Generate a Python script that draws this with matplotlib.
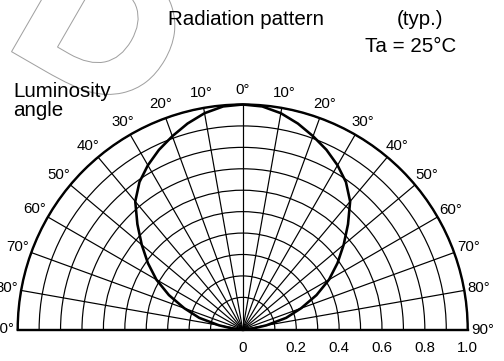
import numpy as np
import matplotlib.pyplot as plt
from matplotlib.textpath import TextPath
from matplotlib.patches import PathPatch
from matplotlib.font_manager import FontProperties
from matplotlib.transforms import Affine2D, IdentityTransform

plt.rcParams['font.family'] = ['Liberation Sans', 'DejaVu Sans']

# relative luminous intensity vs. angle (one side, symmetric)
angles_deg = [0, 5, 10, 15, 20, 25, 30, 35, 40, 45, 50, 55, 60, 65, 70, 75, 80, 85, 90]
intensity = [1.0, 0.995, 0.975, 0.945, 0.91, 0.875, 0.835, 0.79, 0.73, 0.645,
             0.565, 0.49, 0.415, 0.33, 0.24, 0.16, 0.075, 0.03, 0.0]

theta_ticks = list(range(-90, 91, 10))
theta_labels = [f"{abs(a)}°" for a in theta_ticks]
r_rings = [0.1, 0.2, 0.3, 0.4, 0.5, 0.6, 0.7, 0.8, 0.9, 1.0]
r_labels = ["0", "0.2", "0.4", "0.6", "0.8", "1.0"]
r_label_pos = [0.0, 0.2, 0.4, 0.6, 0.8, 1.0]


# the innermost ring is drawn a little wider than linear
def fwd(r):
    r = np.asarray(r, dtype=float)
    return np.where(r < 0.1, 1.5 * r, r + 0.05)


def inv(y):
    y = np.asarray(y, dtype=float)
    return np.where(y < 0.15, y / 1.5, y - 0.05)


W, H = 504, 361
fig = plt.figure(figsize=(W / 72, H / 72), dpi=72)

# outlined stamp letter in the background
stamp = TextPath((0, 0), "D", size=190,
                 prop=FontProperties(family='DejaVu Sans', weight='bold'))
stamp_tf = Affine2D().scale(1.05, 1.0).translate(-5, 0).rotate_deg(-30).translate(0, 316)
fig.add_artist(PathPatch(stamp, facecolor='none', edgecolor='#a0a0a0', lw=1.0,
                         transform=stamp_tf + IdentityTransform(), zorder=0))

# half disc sits in the lower-middle of a square polar box
cx, cy, R = 242.7, 329.5, 225.0
box_bottom = (H - cy) - R / 2
ax = fig.add_axes([(cx - R) / W, box_bottom / H, 2 * R / W, 2 * R / H], projection='polar')
ax.patch.set_alpha(0)
ax.set_theta_zero_location('N')
ax.set_theta_direction(-1)
ax.set_thetamin(-90)
ax.set_thetamax(90)
ax.set_rscale('function', functions=(fwd, inv))
ax.set_rlim(0, 1.0)

ax.set_thetagrids(theta_ticks, theta_labels, fontsize=15)
ax.tick_params(axis='x', pad=8, length=0)
ax.set_rgrids(r_rings, [''] * len(r_rings))
ax.tick_params(axis='y', length=0)
ax.grid(True, color='black', linewidth=1.2)

for name, sp in ax.spines.items():
    sp.set_color('black')
    sp.set_linewidth(2.4)

# both halves of the pattern
th = np.array(angles_deg[::-1] + angles_deg[1:], dtype=float)
th[:len(angles_deg)] *= -1
vals = np.array(intensity[::-1] + intensity[1:])
ax.plot(np.deg2rad(th), vals, color='black', linewidth=2.6, clip_on=False)

for pos, lab in zip(r_label_pos, r_labels):
    ax.annotate(lab, xy=(np.deg2rad(90), pos), xytext=(0, -18),
                textcoords='offset points', ha='center', va='center',
                fontsize=15, annotation_clip=False)

fig.text(168 / W, 1 - 25 / H, "Radiation pattern", fontsize=20.5, va='baseline')
fig.text(397 / W, 1 - 25 / H, "(typ.)", fontsize=20.5, va='baseline')
fig.text(365 / W, 1 - 52 / H, "Ta = 25°C", fontsize=20.5, va='baseline')
fig.text(13 / W, 1 - 97 / H, "Luminosity", fontsize=20.5, va='baseline')
fig.text(13 / W, 1 - 116 / H, "angle", fontsize=20.5, va='baseline')

fig.savefig('out.png', dpi=72)
